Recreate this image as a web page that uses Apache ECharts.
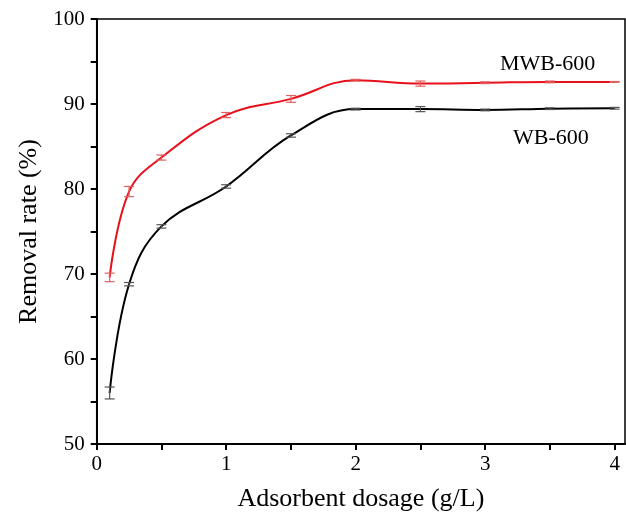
<!DOCTYPE html>
<html>
<head>
	<meta charset="UTF-8">
	<title>Removal rate vs adsorbent dosage</title>
	<script src="https://cdn.jsdelivr.net/npm/echarts@6/dist/echarts.min.js" type="text/javascript"></script>
	<style>
		html, body { margin: 0; padding: 0; background: #fff; }
		#main { width: 626px; height: 517px; }
	</style>
</head>
<body>
	<div id="main"></div>
<script type="text/javascript">
// dosage (g/L)
var dosage = [0.1, 0.25, 0.5, 1, 1.5, 2, 2.5, 3, 3.5, 4];
// removal rate (%)
var mwb600 = [69.6, 79.7, 83.7, 88.7, 90.6, 92.8, 92.4, 92.5, 92.6, 92.6];
var mwb600Err = [0.5, 0.6, 0.3, 0.3, 0.4, 0.1, 0.3, 0.1, 0.1, 0.05];
var wb600 = [56.0, 68.8, 75.6, 80.3, 86.3, 89.4, 89.4, 89.3, 89.45, 89.5];
var wb600Err = [0.7, 0.2, 0.2, 0.2, 0.2, 0.1, 0.3, 0.1, 0.1, 0.1];
// axis ticks
var xTicks = [0, 0.5, 1, 1.5, 2, 2.5, 3, 3.5, 4];
var xLabels = [0, 1, 2, 3, 4];
var yTicks = [50, 55, 60, 65, 70, 75, 80, 85, 90, 95, 100];
var yLabels = [50, 60, 70, 80, 90, 100];

var font = '"Liberation Serif", "Times New Roman", serif';

function pairs(ys) {
	return dosage.map(function (x, i) { return [x, ys[i]]; });
}
function errRows(ys, es) {
	return dosage.map(function (x, i) { return [x, ys[i] - es[i], ys[i] + es[i]]; });
}
// 误差棒
function errorBar(color) {
	return function (params, api) {
		var lo = api.coord([api.value(0), api.value(1)]);
		var hi = api.coord([api.value(0), api.value(2)]);
		var w = 5;
		var st = { stroke: color, lineWidth: 1.2 };
		return {
			type: 'group',
			children: [
				{ type: 'line', shape: { x1: lo[0], y1: lo[1], x2: hi[0], y2: hi[1] }, style: st },
				{ type: 'line', shape: { x1: lo[0] - w, y1: lo[1], x2: lo[0] + w, y2: lo[1] }, style: st },
				{ type: 'line', shape: { x1: hi[0] - w, y1: hi[1], x2: hi[0] + w, y2: hi[1] }, style: st }
			]
		};
	};
}

var myChart = echarts.init(document.getElementById('main'));
var option = {
	backgroundColor: '#fff',
	animation: false,
	grid: {
		left: 96.7,
		top: 19,
		right: 1,
		bottom: 70,
		show: true,
		borderColor: '#000',
		borderWidth: 1.5
	},
	xAxis: {
		type: 'value',
		min: 0,
		max: 4.08,
		name: 'Adsorbent dosage (g/L)',
		nameLocation: 'middle',
		nameGap: 42,
		nameTextStyle: { fontFamily: font, fontSize: 26, color: '#000' },
		axisLine: { show: true, lineStyle: { color: '#000', width: 2 } },
		axisTick: { show: true, length: 6, customValues: xTicks, lineStyle: { color: '#000', width: 2 } },
		axisLabel: { customValues: xLabels, margin: 10, fontFamily: font, fontSize: 21, color: '#000' },
		splitLine: { show: false }
	},
	yAxis: {
		type: 'value',
		min: 50,
		max: 100,
		name: 'Removal rate (%)',
		nameLocation: 'middle',
		nameGap: 54,
		nameTextStyle: { fontFamily: font, fontSize: 26, color: '#000' },
		axisLine: { show: true, lineStyle: { color: '#000', width: 2 } },
		axisTick: { show: true, length: 6, customValues: yTicks, lineStyle: { color: '#000', width: 2 } },
		axisLabel: { customValues: yLabels, margin: 12, fontFamily: font, fontSize: 21, color: '#000' },
		splitLine: { show: false }
	},
	series: [
		{
			name: 'MWB-600',
			type: 'line',
			data: pairs(mwb600),
			smooth: 0.4,
			symbol: 'none',
			lineStyle: { color: '#e8101a', width: 2 },
			z: 3
		},
		{
			name: 'WB-600',
			type: 'line',
			data: pairs(wb600),
			smooth: 0.4,
			symbol: 'none',
			lineStyle: { color: '#000', width: 2 },
			z: 3
		},
		{
			type: 'custom',
			data: errRows(mwb600, mwb600Err),
			renderItem: errorBar('#e06060'),
			encode: { x: 0, y: [1, 2] },
			z: 4
		},
		{
			type: 'custom',
			data: errRows(wb600, wb600Err),
			renderItem: errorBar('#555'),
			encode: { x: 0, y: [1, 2] },
			z: 4
		}
	],
	graphic: [
		{ type: 'text', left: 500, top: 53, style: { text: 'MWB-600', fontFamily: font, fontSize: 22, fill: '#000' } },
		{ type: 'text', left: 513, top: 127, style: { text: 'WB-600', fontFamily: font, fontSize: 22, fill: '#000' } }
	]
};
myChart.setOption(option);
</script>
</body>
</html>
